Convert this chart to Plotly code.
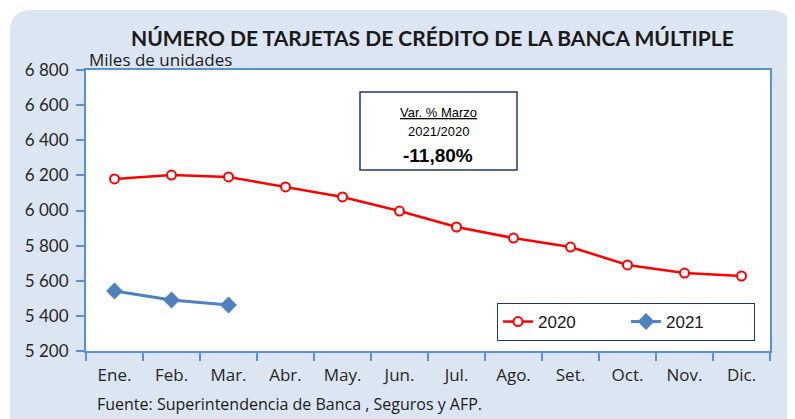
import plotly.graph_objects as go

months = ["Ene.", "Feb.", "Mar.", "Abr.", "May.", "Jun.", "Jul.", "Ago.", "Set.", "Oct.", "Nov.", "Dic."]
v2020 = [6180, 6202, 6191, 6134, 6077, 5997, 5906, 5843, 5792, 5690, 5644, 5627]
v2021 = [5542, 5490, 5462]
yticks = [5200, 5400, 5600, 5800, 6000, 6200, 6400, 6600, 6800]

OFF = 8  # page body margin
W, H = 795 - OFF, 419 - OFF
# plot area in reference (screen) pixels: x 86..770, y 70..351
PL, PR, PT, PB = 86, 770, 70, 351
L, T = PL - OFF, PT - OFF
R, B = W - (PR - OFF), H - (PB - OFF)
pw, ph = PR - PL, PB - PT

def px(x):
    return (x - PL) / pw

def py(y):
    return (PB - y) / ph

fig = go.Figure()
fig.add_trace(go.Scatter(x=months, y=v2020, name="2020", mode="lines+markers",
                         line=dict(color="#ff0000", width=2.5),
                         marker=dict(symbol="circle", size=9, color="white",
                                     line=dict(color="#ff0000", width=2))))
fig.add_trace(go.Scatter(x=months[:len(v2021)], y=v2021, name="2021", mode="lines+markers",
                         line=dict(color="#4f81bd", width=3),
                         marker=dict(symbol="diamond", size=13, color="#4f81bd")))

# rounded background
x0, x1, y0, y1, r = 10, 792, 10, 440, 22
rx, ry = r / pw, r / ph
path = (f"M {px(x0)+rx} {py(y0)} L {px(x1)-rx} {py(y0)} Q {px(x1)} {py(y0)} {px(x1)} {py(y0)-ry} "
        f"L {px(x1)} {py(y1)+ry} Q {px(x1)} {py(y1)} {px(x1)-rx} {py(y1)} "
        f"L {px(x0)+rx} {py(y1)} Q {px(x0)} {py(y1)} {px(x0)} {py(y1)+ry} "
        f"L {px(x0)} {py(y0)-ry} Q {px(x0)} {py(y0)} {px(x0)+rx} {py(y0)} Z")
shapes = [
    dict(type="path", xref="paper", yref="paper", path=path, fillcolor="#dce6f2",
         line=dict(width=0), layer="below"),
    dict(type="rect", xref="paper", yref="paper", x0=0, x1=1, y0=0, y1=1,
         fillcolor="white", line=dict(width=0), layer="below"),
    dict(type="rect", xref="paper", yref="paper", x0=px(360), x1=px(517), y0=py(170), y1=py(92),
         fillcolor="white", line=dict(color="#1f3864", width=1.5), layer="above"),
]

annotations = [
    dict(text="<b>NÚMERO DE TARJETAS DE CRÉDITO DE LA BANCA MÚLTIPLE</b>", x=px(432), y=py(37),
         font=dict(family="Lato", size=21, color="#1a1a1a")),
    dict(text="Miles de unidades", x=px(87), y=py(59), xanchor="left",
         font=dict(family="Open Sans", size=17, color="#1a1a1a")),
    dict(text="<u>Var. % Marzo</u>", x=px(438), y=py(112),
         font=dict(family="Arial", size=13, color="#000")),
    dict(text="2021/2020", x=px(438), y=py(132),
         font=dict(family="Arial", size=13, color="#000")),
    dict(text="<b>-11,80%</b>", x=px(438), y=py(155),
         font=dict(family="Arial", size=19, color="#000")),
    dict(text="Fuente: Superintendencia de Banca , Seguros y AFP.", x=px(95), y=py(404), xanchor="left",
         font=dict(family="Open Sans", size=16, color="#1a1a1a")),
]
for a in annotations:
    a.update(xref="paper", yref="paper", showarrow=False, yanchor="middle")

fig.update_layout(
    width=W, height=H, margin=dict(l=L, r=R, t=T, b=B),
    paper_bgcolor="white", plot_bgcolor="white",
    separators=", ",
    shapes=shapes, annotations=annotations,
    showlegend=True,
    legend=dict(orientation="h", x=px(755), xanchor="right", y=py(341), yanchor="bottom",
                bgcolor="white", bordercolor="#1f3864", borderwidth=1,
                font=dict(family="Arial", size=17, color="#1a1a1a"),
                entrywidth=83),
    xaxis=dict(type="category", showgrid=False, showline=True, mirror=True,
               linecolor="#5b8fd9", linewidth=2, ticks="outside", ticklen=8,
               tickcolor="#5b8fd9", tickwidth=1.5, tickson="boundaries",
               ticklabelstandoff=8,
               tickfont=dict(family="Open Sans", size=17, color="#262626"),
               range=[-0.5, 11.5]),
    yaxis=dict(range=[5200, 6800], tickvals=yticks, showgrid=False, showline=True, mirror=True,
               linecolor="#5b8fd9", linewidth=2, ticks="outside", ticklen=8,
               tickcolor="#5b8fd9", tickwidth=1.5, tickformat=",d", separatethousands=True,
               ticklabelstandoff=4,
               tickfont=dict(family="Lato", size=17, color="#262626"), zeroline=False),
)
fig.write_html("out.html")
